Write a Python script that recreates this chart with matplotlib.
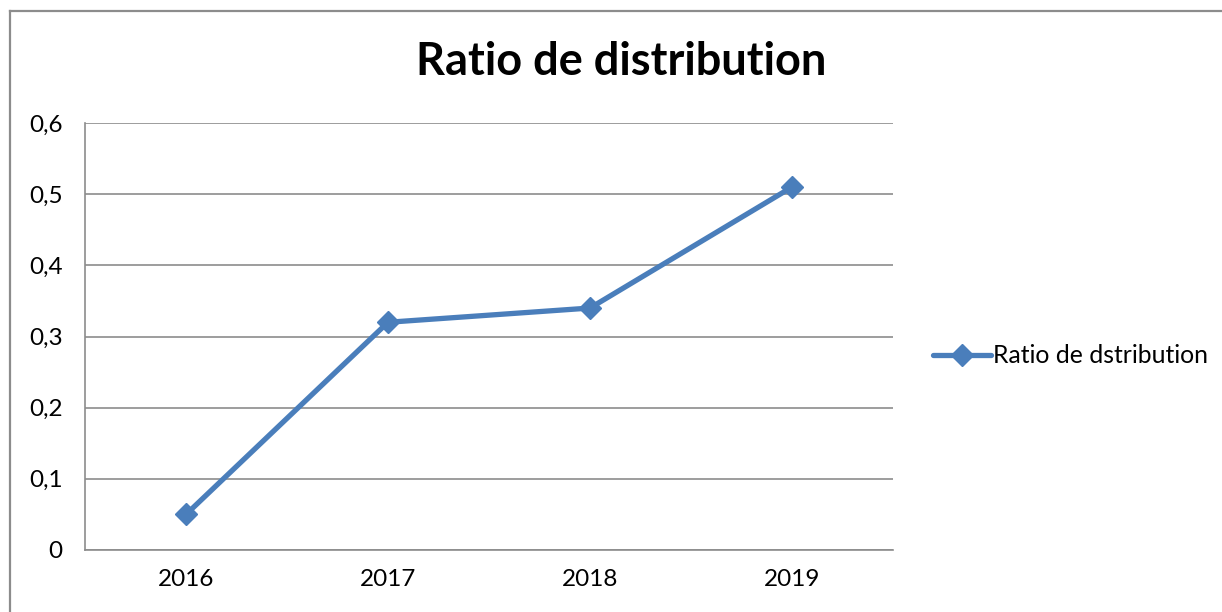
import matplotlib
matplotlib.use("Agg")
import matplotlib.pyplot as plt
from matplotlib.lines import Line2D

years = ["2016", "2017", "2018", "2019"]
values = [0.05, 0.32, 0.34, 0.51]
yticks = [0, 0.1, 0.2, 0.3, 0.4, 0.5, 0.6]
ytick_labels = ["0", "0,1", "0,2", "0,3", "0,4", "0,5", "0,6"]
series_name = "Ratio de dstribution"
title = "Ratio de distribution"

W, H = 1222, 612
fig = plt.figure(figsize=(W / 100, H / 100), dpi=100)
plt.rcParams['font.family'] = ['Lato', 'DejaVu Sans']

# outer border (left and top edges only visible)
bx, by = 9.5 / W, 1 - 10.5 / H
fig.lines.append(Line2D([bx, bx], [0, by], transform=fig.transFigure,
                        color="#8c8c8c", linewidth=1.6))
fig.lines.append(Line2D([bx, 1], [by, by], transform=fig.transFigure,
                        color="#8c8c8c", linewidth=1.6))

ax = fig.add_axes([85 / W, 1 - 550 / H, (893 - 85) / W, (550 - 123) / H])
x = list(range(len(years)))
ax.plot(x, values, color="#4A7EBB", linewidth=3.8, marker="D", markersize=11.5,
        markerfacecolor="#4A7EBB", markeredgecolor="#4A7EBB", label=series_name,
        solid_capstyle="round", zorder=3)
ax.set_xlim(-0.5, 3.5)
ax.set_ylim(0, 0.6)
ax.set_yticks(yticks)
ax.set_yticklabels(ytick_labels)
ax.set_xticks(x)
ax.set_xticklabels(years)
ax.tick_params(axis="both", length=0, labelsize=17.5)
ax.tick_params(axis="x", pad=14)
ax.tick_params(axis="y", pad=16)
ax.grid(axis="y", color="#8c8c8c", linewidth=1.2)
ax.set_axisbelow(True)
for s in ["top", "right"]:
    ax.spines[s].set_visible(False)
for s in ["left", "bottom"]:
    ax.spines[s].set_color("#8c8c8c")
    ax.spines[s].set_linewidth(1.2)

fig.text(621 / W, 1 - 62 / H, title, ha="center", va="center", fontsize=32.5,
         fontweight="bold")

leg = ax.legend(loc="center left", bbox_to_anchor=(1.028, 0.455), frameon=False,
                fontsize=17.8, handlelength=2.35, handletextpad=0.1,
                borderaxespad=0.3)

fig.savefig("out.png", dpi=100)
